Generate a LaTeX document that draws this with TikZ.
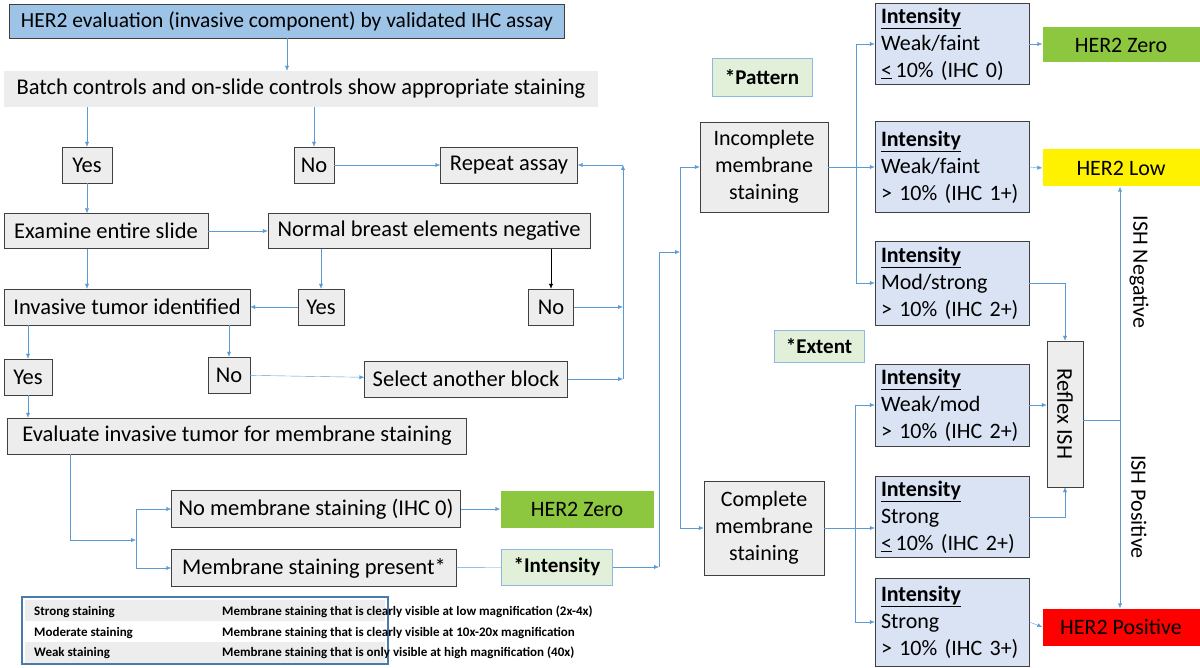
\documentclass[tikz,border=0pt]{standalone}
\usepackage{fontspec}
\setmainfont{Carlito}
\usetikzlibrary{arrows.meta}
\definecolor{flowblue}{HTML}{5B9BD5}
\definecolor{topblue}{HTML}{9DC3E6}
\definecolor{boxgray}{HTML}{EDEDED}
\definecolor{intblue}{HTML}{DAE3F3}
\definecolor{zerogreen}{HTML}{8DC63F}
\definecolor{notegreen}{HTML}{E2F0D9}
\tikzset{
  box/.style={draw=black!75, fill=boxgray, inner sep=0pt, font=\fontsize{22.5}{26}\selectfont},
  note/.style={draw=flowblue!70, fill=notegreen, inner sep=0pt, font=\bfseries\fontsize{21}{24}\selectfont},
  res/.style={inner sep=0pt, font=\fontsize{22}{26}\selectfont},
  ibox/.style={draw=black!75, fill=intblue, inner sep=0pt, text width=142pt, align=left,
    minimum width=154pt, font=\fontsize{22}{27}\selectfont},
  flow/.style={flowblue, -{Latex[length=5pt,width=4pt]}},
  link/.style={flowblue}
}
\newcommand{\ibody}[2]{\textbf{\underline{Intensity}}\\#1\\#2}
\begin{document}
\begin{tikzpicture}[x=1pt,y=-1pt]
\useasboundingbox (0,0) rectangle (1200,668);
% left column
\node[box, fill=topblue, minimum width=555pt, minimum height=34pt, font=\fontsize{21.5}{25}\selectfont] (eval) at (287,21) {HER2 evaluation (invasive component) by validated IHC assay};
\node[box, draw=none, minimum width=594pt, minimum height=36pt] (batch) at (301,89) {Batch controls and on-slide controls show appropriate staining};
\node[box, minimum width=50pt, minimum height=36pt] (yesA) at (87,165) {Yes};
\node[box, minimum width=40pt, minimum height=36pt] (noA) at (314,165) {No};
\node[box, minimum width=137pt, minimum height=36pt] (repeat) at (509,165) {Repeat assay};
\node[box, minimum width=204pt, minimum height=35pt] (examine) at (106,231) {Examine entire slide};
\node[box, minimum width=322pt, minimum height=35pt] (normal) at (429,231) {Normal breast elements negative};
\node[box, minimum width=246pt, minimum height=36pt] (tumor) at (127,307) {Invasive tumor identified};
\node[box, minimum width=46pt, minimum height=36pt] (yesB) at (321,307) {Yes};
\node[box, minimum width=45pt, minimum height=36pt] (noB) at (551,307) {No};
\node[box, minimum width=48pt, minimum height=36pt] (yesC) at (28,377) {Yes};
\node[box, minimum width=42pt, minimum height=36pt] (noC) at (229,375) {No};
\node[box, minimum width=203pt, minimum height=36pt] (select) at (466,379) {Select another block};
\node[box, minimum width=459pt, minimum height=36pt] (membrane) at (237,436) {Evaluate invasive tumor for membrane staining};
\node[box, minimum width=289pt, minimum height=37pt] (nomem) at (316,509) {No membrane staining (IHC 0)};
\node[res, fill=zerogreen, minimum width=153pt, minimum height=37pt] (zeroA) at (577,509) {HER2 Zero};
\node[box, minimum width=285pt, minimum height=37pt] (present) at (314,568) {Membrane staining present*};
\node[note, minimum width=111pt, minimum height=36pt] (intensity) at (557,567) {*Intensity};
% middle
\node[note, minimum width=100pt, minimum height=38pt] (pattern) at (762,77) {*Pattern};
\node[note, minimum width=90pt, minimum height=32pt] (extent) at (819,346) {*Extent};
\node[box, align=center, minimum width=128pt, minimum height=90pt, font=\fontsize{22}{27}\selectfont] (incomplete) at (764,167) {Incomplete\\membrane\\staining};
\node[box, align=center, minimum width=120pt, minimum height=94pt, font=\fontsize{22}{27}\selectfont] (complete) at (764,528) {Complete\\membrane\\staining};
% intensity column
\node[ibox, minimum height=81pt] (iA) at (952,44) {\ibody{Weak/faint}{\underline{<}\,10\% (IHC 0)}};
\node[ibox, minimum height=91pt] (iB) at (952,167) {\ibody{Weak/faint}{> 10\% (IHC 1+)}};
\node[ibox, minimum height=84pt] (iC) at (952,283) {\ibody{Mod/strong}{> 10\% (IHC 2+)}};
\node[ibox, minimum height=82pt] (iD) at (952,405) {\ibody{Weak/mod}{> 10\% (IHC 2+)}};
\node[ibox, minimum height=81pt] (iE) at (952,517) {\ibody{Strong}{\underline{<}\,10\% (IHC 2+)}};
\node[ibox, minimum height=88pt] (iF) at (952,622) {\ibody{Strong}{> 10\% (IHC 3+)}};
% results
\node[res, fill=zerogreen, minimum width=157pt, minimum height=35pt] (zeroB) at (1121,45) {HER2 Zero};
\node[res, fill=yellow, minimum width=157pt, minimum height=37pt] (low) at (1121,168) {HER2 Low};
\node[res, fill=red, minimum width=157pt, minimum height=37pt] (positive) at (1121,627) {HER2 Positive};
\node[box, minimum width=146pt, minimum height=36pt, rotate=-90] (reflex) at (1065,414) {Reflex ISH};
\node[res, rotate=-90] (ishneg) at (1139,272) {ISH Negative};
\node[res, rotate=-90] (ishpos) at (1139,507) {ISH Positive};
\coordinate (ish) at (1120,420);
% table
\draw[draw=flowblue!80!black, line width=1.5pt] (22,597) rectangle (388,664);
\foreach \y in {600,642} \fill[boxgray] (25,\y) rectangle (385,\y+21);
\foreach \y/\a/\b in {612/Strong staining/Membrane staining that is clearly visible at low magnification (2x-4x),
  633/Moderate staining/Membrane staining that is clearly visible at 10x-20x magnification,
  653/Weak staining/Membrane staining that is only visible at high magnification (40x)} {
  \node[anchor=west, inner sep=0pt, font=\bfseries\fontsize{13}{15}\selectfont] at (34,\y) {\a};
  \node[anchor=west, inner sep=0pt, font=\bfseries\fontsize{13}{15}\selectfont] at (222,\y) {\b};
}
% connectors
\draw[flow] (eval.south) -- (eval.south |- batch.north);
\draw[flow] (batch.south -| yesA) -- (yesA.north);
\draw[flow] (batch.south -| noA) -- (noA.north);
\draw[flow] (noA) -- (repeat);
\draw[flow] (yesA) -- (yesA |- examine.north);
\draw[flow] (examine) -- (normal);
\draw[flow] (yesA |- examine.south) -- (yesA |- tumor.north);
\draw[flow] (normal.south -| yesB) -- (yesB.north);
\draw[-{Latex[length=5pt,width=4pt]}] (normal.south -| noB) -- (noB.north);
\draw[flow] (yesB) -- (tumor);
\draw[flow] (tumor.south -| yesC) -- (yesC.north);
\draw[flow] (tumor.south -| noC) -- (noC.north);
\draw[flow] (noC) -- (select);
\draw[flow] (yesC) -- (yesC |- membrane.north);
\draw[flow] (noB.east) -- (623,307);
\draw[flow] (select.east) -- (623,379);
\draw[flow] (623,379) -- (623,165);
\draw[flow] (623,165) -- (repeat.east);
\draw[flow] (70,454) -- (70,540) -- (136,540);
\draw[flow] (136,540) |- (nomem.west);
\draw[flow] (136,540) |- (present.west);
\draw[flow] (nomem) -- (zeroA);
\draw[link] (present) -- (intensity);
\draw[flow] (intensity.east) -- (659,567);
\draw[flow] (659,567) -- (659,252) -- (680,252);
\draw[flow] (680,347) |- (incomplete.west);
\draw[flow] (680,347) |- (complete.west);
\draw[flow] (incomplete.east) -- (iB.west);
\draw[flow] (856,167) |- (iA.west);
\draw[flow] (856,167) |- (iC.west);
\draw[flow] (complete.east) -- (iE.west |- complete.east);
\draw[flow] (855,528) |- (iD.west);
\draw[flow] (855,528) |- (iF.west);
\draw[flow] (iA.east) -- (zeroB.west |- iA.east);
\draw[flow] (iB.east) -- (low.west);
\draw[flow] (iF.east) -- (positive.west);
\draw[flow] (iC.east) -| (reflex.west);
\draw[flow] (iE.east) -| (reflex.east);
\draw[flow] (iD.east) -- (reflex.south |- iD.east);
\draw[link] (reflex.north |- ish) -- (ish);
\draw[flow] (ish) -- (low.south -| ish);
\draw[flow] (ish) -- (positive.north -| ish);
\end{tikzpicture}
\end{document}
